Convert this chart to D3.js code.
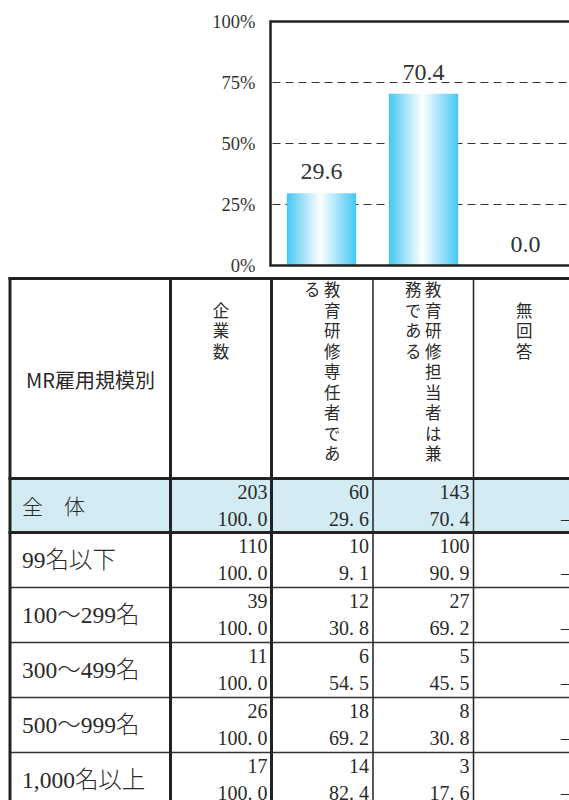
<!DOCTYPE html>
<html>
<head>
<meta charset="utf-8">
<script src="https://cdn.jsdelivr.net/npm/d3@7"></script>
<style>
  body { margin: 0; background: #fff; }
  svg { display: block; }
</style>
</head>
<body>
<div id="chart"></div>
<script>
// chart data
var chartCats = ["教育研修専任者である", "教育研修担当者は兼務である", "無回答"];
var chartVals = [29.6, 70.4, 0.0];
var yTicks = [0, 25, 50, 75, 100];

// table data
var rowLabels = ["全　体", "99名以下", "100〜299名", "300〜499名", "500〜999名", "1,000名以上"];
var companyCounts = [203, 110, 39, 11, 26, 17];
var companyPct = [100.0, 100.0, 100.0, 100.0, 100.0, 100.0];
var fullTimeCounts = [60, 10, 12, 6, 18, 14];
var fullTimePct = [29.6, 9.1, 30.8, 54.5, 69.2, 82.4];
var concurrentCounts = [143, 100, 27, 5, 8, 3];
var concurrentPct = [70.4, 90.9, 69.2, 45.5, 30.8, 17.6];
var noAnswerCounts = [0, 0, 0, 0, 0, 0];

var stubHeader = "MR雇用規模別";
// vertical header text, each entry is a list of columns (right to left)
var colHeaders = [
  ["企業数"],
  ["教育研修専任者であ", "る"],
  ["教育研修担当者は兼", "務である"],
  ["無回答"]
];

var width = 569, height = 800;
var serif = "'Liberation Serif', 'Noto Sans CJK JP', serif";
var sans = "'Noto Sans CJK JP', sans-serif";
var ink = "#2a2a2a";

var svg = d3.select("#chart")
  .append("svg")
  .attr("width", width)
  .attr("height", height);

var defs = svg.append("defs");
var grad = defs.append("linearGradient")
  .attr("id", "barGrad")
  .attr("x1", "0%").attr("x2", "100%").attr("y1", "0%").attr("y2", "0%");
grad.append("stop").attr("offset", "0%").attr("stop-color", "#45c6f3");
grad.append("stop").attr("offset", "48%").attr("stop-color", "#ffffff");
grad.append("stop").attr("offset", "100%").attr("stop-color", "#45c6f3");

// ---------- bar chart ----------
var plotLeft = 270.5, plotTop = 21.5, plotBottom = 265.5;

var xScale = d3.scaleBand()
  .domain(chartCats)
  .range([plotLeft, plotLeft + 306])
  .paddingInner(0.32)
  .paddingOuter(0.16);

var yScale = d3.scaleLinear()
  .domain([0, 100])
  .range([plotBottom, plotTop]);

var chart = svg.append("g");

// dashed gridlines
chart.selectAll(".grid")
  .data(yTicks.filter(function(d) { return d > 0 && d < 100; }))
  .enter()
  .append("line")
  .attr("class", "grid")
  .attr("x1", plotLeft + 2)
  .attr("x2", width)
  .attr("y1", function(d) { return yScale(d); })
  .attr("y2", function(d) { return yScale(d); })
  .attr("stroke", "#333")
  .attr("stroke-width", 1)
  .attr("stroke-dasharray", "8,5");

var yAxis = d3.axisLeft(yScale)
  .tickValues(yTicks)
  .tickSize(0)
  .tickPadding(15)
  .tickFormat(function(d) { return d + "%"; });

var yAxisG = chart.append("g")
  .attr("transform", "translate(" + plotLeft + ",0)")
  .call(yAxis);
yAxisG.select(".domain").remove();
yAxisG.selectAll("text")
  .attr("font-family", serif)
  .attr("font-size", 18.5)
  .attr("fill", "#333");

chart.selectAll(".bar")
  .data(chartVals)
  .enter()
  .append("rect")
  .attr("class", "bar")
  .attr("x", function(d, i) { return xScale(chartCats[i]); })
  .attr("width", xScale.bandwidth())
  .attr("y", function(d) { return yScale(d); })
  .attr("height", function(d) { return yScale(0) - yScale(d); })
  .attr("fill", "url(#barGrad)");

chart.selectAll(".bar-label")
  .data(chartVals)
  .enter()
  .append("text")
  .attr("class", "bar-label")
  .attr("x", function(d, i) { return xScale(chartCats[i]) + xScale.bandwidth() / 2; })
  .attr("y", function(d) { return yScale(d) - 14; })
  .attr("text-anchor", "middle")
  .attr("font-family", serif)
  .attr("font-size", 24)
  .attr("fill", "#333")
  .text(function(d) { return d.toFixed(1); });

// frame
chart.append("path")
  .attr("d", "M" + (width + 5) + "," + plotTop + "H" + plotLeft + "V" + plotBottom + "H" + (width + 5))
  .attr("fill", "none")
  .attr("stroke", "#222")
  .attr("stroke-width", 2.5);

// ---------- table ----------
var colX = [10, 170.5, 271.5, 373, 473.5, 575];
var tableTop = 278.5, headerBottom = 478.5, totalBottom = 532.5, rowH = 55;

var rowTops = rowLabels.map(function(d, i) {
  return i === 0 ? headerBottom : totalBottom + (i - 1) * rowH;
});
var rowBottoms = rowLabels.map(function(d, i) {
  return i === 0 ? totalBottom : totalBottom + i * rowH;
});
var tableBottom = rowBottoms[rowBottoms.length - 1];

var table = svg.append("g");

// highlighted total row
table.append("rect")
  .attr("x", colX[0])
  .attr("y", rowTops[0])
  .attr("width", width - colX[0])
  .attr("height", rowBottoms[0] - rowTops[0])
  .attr("fill", "#d3ecf3");

// stub header
table.append("text")
  .attr("x", 26)
  .attr("y", 388)
  .attr("font-family", sans)
  .attr("font-size", 20)
  .attr("fill", ink)
  .text(stubHeader);

// vertical column headers (one text per column, written top to bottom)
var headStartY = [302, 281.5, 281.5, 302];
colHeaders.forEach(function(cols, c) {
  var cx = (colX[c + 1] + colX[c + 2]) / 2;
  var n = cols.length;
  table.selectAll(null)
    .data(cols)
    .enter()
    .append("text")
    .attr("x", function(d, k) { return cx + ((n - 1) / 2 - k) * 20; })
    .attr("y", function(d, k) { return k === 0 ? headStartY[c] : 281.5; })
    .style("writing-mode", "vertical-rl")
    .style("letter-spacing", "4px")
    .attr("font-family", sans)
    .attr("font-size", 16.5)
    .attr("fill", ink)
    .text(function(d) { return d; });
});

// row labels
table.selectAll(".row-label")
  .data(rowLabels)
  .enter()
  .append("text")
  .attr("class", "row-label")
  .attr("x", 22)
  .attr("y", function(d, i) { return (rowTops[i] + rowBottoms[i]) / 2 + 8; })
  .attr("font-family", serif)
  .attr("font-weight", 300)
  .attr("font-size", function(d, i) { return i === 0 ? 21 : 23.5; })
  .attr("fill", ink)
  .text(function(d) { return d; });

function fmtPct(v) {
  return v.toFixed(1).replace(".", ". ");
}

var cellCols = [
  { counts: companyCounts, pcts: companyPct },
  { counts: fullTimeCounts, pcts: fullTimePct },
  { counts: concurrentCounts, pcts: concurrentPct },
  { counts: noAnswerCounts, pcts: null }
];

cellCols.forEach(function(col, c) {
  var rx = colX[c + 2] - 4;
  var g = table.append("g");
  g.selectAll(".n")
    .data(col.counts)
    .enter()
    .append("text")
    .attr("x", rx)
    .attr("y", function(d, i) { return rowTops[i] + 20; })
    .attr("text-anchor", "end")
    .attr("font-family", serif)
    .attr("font-size", 20)
    .attr("fill", ink)
    .text(function(d) { return col.pcts ? d : ""; });
  g.selectAll(".p")
    .data(col.counts)
    .enter()
    .append("text")
    .attr("x", rx)
    .attr("y", function(d, i) { return rowTops[i] + 47.5; })
    .attr("text-anchor", "end")
    .attr("font-family", serif)
    .attr("font-size", 20)
    .attr("fill", ink)
    .text(function(d, i) { return col.pcts ? fmtPct(col.pcts[i]) : "\u2013"; });
});

// grid lines of table
var thinRows = rowBottoms.slice(1, rowBottoms.length - 1);
table.selectAll(".hthin")
  .data(thinRows)
  .enter()
  .append("line")
  .attr("x1", colX[0])
  .attr("x2", width)
  .attr("y1", function(d) { return d; })
  .attr("y2", function(d) { return d; })
  .attr("stroke", "#333")
  .attr("stroke-width", 1.5);

[tableTop, headerBottom, totalBottom].forEach(function(y) {
  table.append("line")
    .attr("x1", colX[0] - 1.5)
    .attr("x2", width)
    .attr("y1", y)
    .attr("y2", y)
    .attr("stroke", "#222")
    .attr("stroke-width", 3);
});

colX.slice(0, 5).forEach(function(x, i) {
  table.append("line")
    .attr("x1", x)
    .attr("x2", x)
    .attr("y1", tableTop - 1.5)
    .attr("y2", tableBottom + 10)
    .attr("stroke", "#222")
    .attr("stroke-width", i < 3 ? 3 : 1.5);
});
</script>
</body>
</html>
